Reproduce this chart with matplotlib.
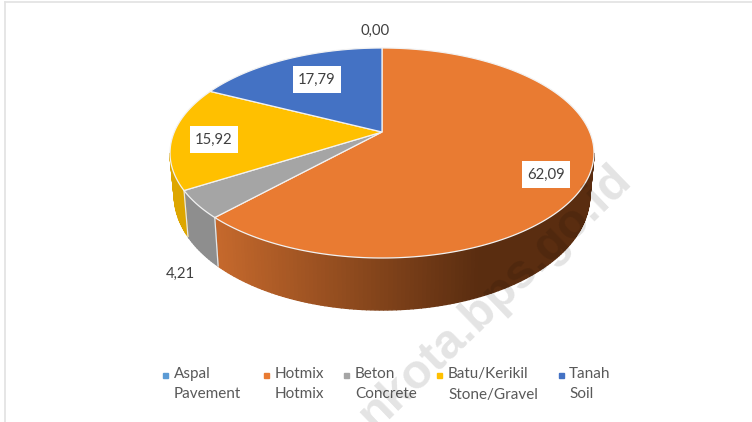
import numpy as np
import matplotlib
matplotlib.use('Agg')
import matplotlib.pyplot as plt
from matplotlib.lines import Line2D
from matplotlib.patches import Rectangle

categories = ['Aspal\nPavement', 'Hotmix\nHotmix', 'Beton\nConcrete', 'Batu/Kerikil\nStone/Gravel', 'Tanah\nSoil']
values = [0.00, 62.09, 4.21, 15.92, 17.79]
colors = ['#5B9BD5', '#E97B32', '#A5A5A5', '#FFC000', '#4472C4']
wall_left = ['#5B9BD5', '#C4682C', '#8E8E8E', '#DDA600', '#4472C4']
wall_right = ['#5B9BD5', '#5A2D10', '#7E7E7E', '#DDA600', '#4472C4']
label_pos = [(375, 31), (546, 175), (180, 274), (214, 140), (317, 80)]
label_box = [False, True, False, True, True]
legend_marker_x = [165, 266, 346, 439, 561]
legend_text_x = [174, 275, 355, 448, 569]

plt.rcParams['font.family'] = ['Lato', 'DejaVu Sans']


def project(theta):
    # circle seen in perspective: far side shrinks, apex sits above the ellipse centre
    u, v = np.sin(theta), np.cos(theta)
    den = 1 + 0.2 * v
    return 382 + 207.7 * u / den, 132 - 100.8 * v / den


def project_low(theta):
    x, y = project(theta)
    return 382 + (x - 382) * 0.98, y + 39.5 - 12.5 * np.cos(theta)


fig = plt.figure(figsize=(7.52, 4.22), dpi=100)
ax = fig.add_axes([0, 0, 1, 1])
ax.set_xlim(0, 752)
ax.set_ylim(422, 0)
ax.axis('off')

# page border of the screenshot
ax.add_line(Line2D([4.5, 4.5], [1.5, 422], color='#E2E2E2', lw=1.2))
ax.add_line(Line2D([4.5, 752], [1.5, 1.5], color='#E2E2E2', lw=1.2))

edges = np.cumsum([0] + values) / sum(values) * 2 * np.pi
vis_start, vis_end = np.radians(101.5), np.radians(258.5)

# side wall, thin strips so the shading can run along it
for i, val in enumerate(values):
    t0, t1 = max(edges[i], vis_start), min(edges[i + 1], vis_end)
    if val == 0 or t1 <= t0:
        continue
    ts = np.linspace(t0, t1, int((t1 - t0) * 60) + 2)
    c0 = np.array(matplotlib.colors.to_rgb(wall_left[i]))
    c1 = np.array(matplotlib.colors.to_rgb(wall_right[i]))
    for a, b in zip(ts[:-1], ts[1:]):
        xa, ya = project(a)
        xb, yb = project(b)
        xc, yc = project_low(b)
        xd, yd = project_low(a)
        k = np.clip((xa - 220) / (480 - 220), 0, 1)
        ax.fill([xa, xb, xc, xd], [ya, yb, yc, yd], color=c0 + (c1 - c0) * k, lw=1.0, zorder=2)

# light seams between wall pieces
for i, val in enumerate(values):
    if val > 0 and vis_start <= edges[i] <= vis_end:
        xa, ya = project(edges[i])
        xd, yd = project_low(edges[i])
        ax.plot([xa, xd], [ya, yd], color='#E6E6E6', lw=0.9, zorder=3)

# top face
for i, val in enumerate(values):
    if val == 0:
        continue
    ts = np.linspace(edges[i], edges[i + 1], 200)
    xs, ys = project(ts)
    ax.fill(np.r_[382, xs], np.r_[132, ys], facecolor=colors[i], edgecolor='#F2F2F2', lw=0.9, zorder=4)

# data labels
for val, (x, y), boxed in zip(values, label_pos, label_box):
    if boxed:
        ax.add_patch(Rectangle((x - 24, y - 14), 48, 27, facecolor='white', edgecolor='none', zorder=5))
    txt = f'{val:.2f}'.replace('.', ',')
    ax.text(x, y, txt, ha='center', va='center', fontsize=10.7, color='#404040', zorder=6)

# watermark
ax.text(624, 172, 'nkota.bps.go.id', rotation=44, rotation_mode='anchor', ha='right', va='center',
        fontsize=35, fontweight='bold', family=['Liberation Sans'], color='black', alpha=0.11,
        zorder=7, clip_on=True)

# legend, marker sits beside the first line of each entry
for name, c, mx, tx in zip(categories, colors, legend_marker_x, legend_text_x):
    ax.plot([mx], [374.5], linestyle='none', marker='s', markersize=3.6, color=c, zorder=6)
    first, second = name.split('\n')
    ax.text(tx, 374, first, ha='left', va='center', fontsize=11, color='#595959', zorder=6)
    ax.text(tx, 394.5, second, ha='left', va='center', fontsize=11, color='#595959', zorder=6)

plt.savefig('out.png', dpi=100)
plt.close(fig)
